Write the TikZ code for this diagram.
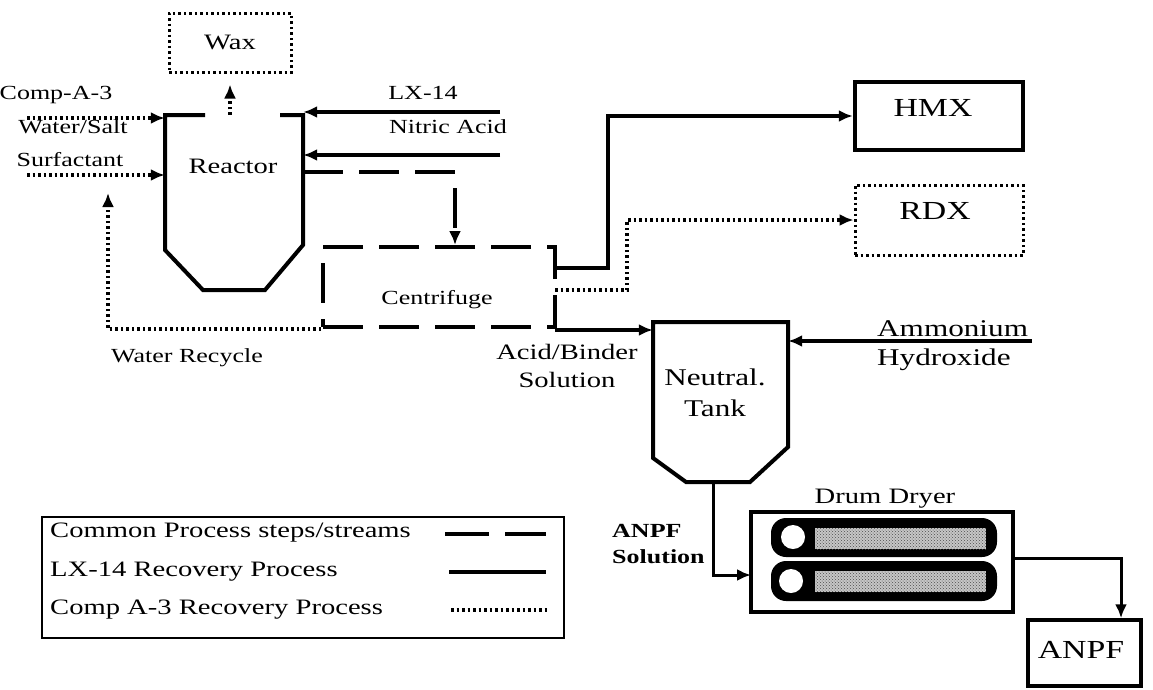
\documentclass[tikz,border=0pt]{standalone}
\usepackage{fontspec}
\setmainfont{Liberation Serif}[FakeStretch=1.3]
\usetikzlibrary{arrows.meta,calc,patterns}
\begin{document}
\begin{tikzpicture}[x=1pt,y=-1pt,line join=miter,
  common/.style={line width=4pt, dash pattern=on 40pt off 16pt},
  lxline/.style={line width=3.5pt},
  compline/.style={line width=3.5pt, dash pattern=on 2.5pt off 3pt},
  tip/.style={-{Latex[length=14pt,width=12pt]}},
  fa/.style={inner sep=0, font=\fontsize{20}{24}\selectfont},
  fb/.style={inner sep=0, font=\fontsize{22}{26}\selectfont},
  fc/.style={inner sep=0, font=\fontsize{24}{28}\selectfont},
  fd/.style={inner sep=0, font=\fontsize{26}{30}\selectfont},
  shapebox/.style={inner sep=0, rectangle}
]
\useasboundingbox (0,0) rectangle (1153,689);

% ---------- shapes ----------
\node[shapebox, draw, compline, line width=3pt, minimum width=122pt, minimum height=59pt, fb] (wax) at (230,42.5) {Wax};

\node[shapebox, minimum width=138pt, minimum height=175pt] (reactor) at (234,202.5) {};
\draw[line width=4pt] (205,115) -- (165,115) -- (165,250) -- (203,290) -- (265,290) -- (303,245) -- (303,115) -- (280,115);
\node[fb] (reactorl) at (233,166) {Reactor};

\node[shapebox, draw, common, minimum width=232pt, minimum height=80pt] (centrifuge) at (439,287) {};
\node[fa] (centrifugel) at (437,300) {Centrifuge};

\node[shapebox, draw, line width=4.5pt, minimum width=168pt, minimum height=68pt] (hmx) at (939,116) {};
\node[fd] (hmxl) at (933,108) {HMX};

\node[shapebox, draw, compline, line width=3pt, minimum width=168pt, minimum height=70pt] (rdx) at (939,220) {};
\node[fd] (rdxl) at (935,211) {RDX};

\node[shapebox, minimum width=135pt, minimum height=160pt] (tank) at (720.5,402) {};
\draw[line width=4pt] (653,322) -- (788,322) -- (788,447) -- (750,482) -- (686,482) -- (653,458) -- cycle;
\node[fc] (tankl1) at (715,377) {Neutral.};
\node[fc] (tankl2) at (715,408) {Tank};

\node[shapebox, draw, line width=4pt, minimum width=262pt, minimum height=100pt] (drum) at (882,562) {};
\node[fb] (druml) at (885,499) {Drum Dryer};
\fill[black, rounded corners=15pt] (771,518) rectangle (997,557);
\fill[white] (793,537) circle[radius=12pt];
\fill[gray!45] (815,528) rectangle (986,549);
\fill[pattern=crosshatch dots, pattern color=black!70] (815,528) rectangle (986,549);
\fill[black, rounded corners=15pt] (771,561) rectangle (997,601);
\fill[white] (791,581) circle[radius=12pt];
\fill[gray!45] (815,571) rectangle (986,592);
\fill[pattern=crosshatch dots, pattern color=black!70] (815,571) rectangle (986,592);

\node[shapebox, draw, line width=3.5pt, minimum width=113pt, minimum height=66pt] (anpf) at (1084.5,653) {};
\node[fd] (anpfl) at (1081,650) {ANPF};

% ---------- labels ----------
\node[fa] (compa3) at (56,95) {Comp-A-3};
\node[fa] (watersalt) at (73,127) {Water/Salt};
\node[fa] (surf) at (70,160) {Surfactant};
\node[fa] (lx14) at (423,93) {LX-14};
\node[fa] (nitric) at (448,127) {Nitric Acid};
\node[fa] (waterrec) at (187,358) {Water Recycle};
\node[fb] (acidb) at (567,352) {Acid/Binder};
\node[fb] (acids) at (567,380) {Solution};
\node[fc, anchor=west] (ammon) at (877,329) {Ammonium};
\node[fc, anchor=west] (hydrox) at (877,360) {Hydroxide};
\node[fa, anchor=west, font=\fontsize{20}{24}\selectfont\bfseries] (anpfs1) at (612,531) {ANPF};
\node[fa, anchor=west, font=\fontsize{20}{24}\selectfont\bfseries] (anpfs2) at (612,557) {Solution};

% ---------- connectors ----------
\coordinate (cin1) at (27,118);
\coordinate (cin2) at (27,175);
\draw[compline, tip] (cin1) -- (cin1 -| reactor.west);
\draw[compline, tip] (cin2) -- (cin2 -| reactor.west);
\draw[compline, tip, shorten >=11pt] (wax.south |- reactor.north) -- (wax.south);

\coordinate (lxin) at (500,112);
\coordinate (nain) at (500,155);
\draw[lxline, tip] (lxin) -- (lxin -| reactor.east);
\draw[lxline, tip] (nain) -- (nain -| reactor.east);

\coordinate (rout) at (303,172);
\coordinate (cfx) at (455,0);
\draw[common, tip] (rout) -| (centrifuge.north -| cfx);

\coordinate (hout) at (555,268);
\draw[lxline, tip] (hout) -- ++(53,0) |- (hmx.west);
\coordinate (rdout) at (555,290);
\draw[compline, tip] (rdout) -- ++(72,0) |- (rdx.west);

\coordinate (wrend) at (108,193);
\draw[compline, tip] (centrifuge.south west) -| (wrend);

\coordinate (abin) at (555,330);
\draw[lxline, tip] (abin) -- (abin -| tank.west);
\coordinate (amin) at (1032,341);
\draw[lxline, tip] (amin) -- (amin -| tank.east);

\coordinate (tout) at (713,482);
\coordinate (din) at (751,575);
\draw[line width=3pt, tip] (tout) |- (din);
\coordinate (dout) at (1013,558);
\coordinate (ax) at (1121,0);
\draw[line width=3pt, tip] (dout) -| (anpf.north -| ax);

% ---------- legend ----------
\node[shapebox, draw, line width=2.5pt, minimum width=522pt, minimum height=121pt] (legend) at (303,577.5) {};
\node[fb, anchor=west] (leg1) at (50,533) {Common Process steps/streams};
\node[fb, anchor=west] (leg2) at (50,572) {LX-14 Recovery Process};
\node[fb, anchor=west] (leg3) at (50,610) {Comp A-3 Recovery Process};
\draw[line width=4pt, dash pattern=on 44pt off 16pt] (445,534) -- (546,534);
\draw[lxline] (449,572) -- (546,572);
\draw[compline] (451,610) -- (548,610);
\end{tikzpicture}
\end{document}
